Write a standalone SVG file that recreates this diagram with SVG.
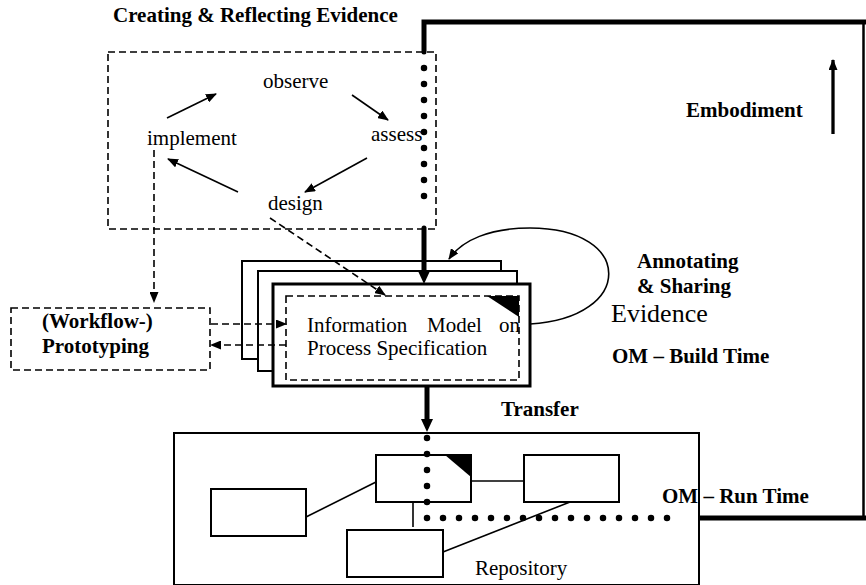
<svg xmlns="http://www.w3.org/2000/svg" width="866" height="585" viewBox="0 0 866 585">
  <style>
    text { font-family: "Liberation Serif", "Times New Roman", serif; fill: #000; }
    .lbl { font-size: 21px; }
    .b { font-size: 21px; font-weight: bold; }
    .box { fill: #fff; stroke: #000; stroke-width: 2; }
    .dash { fill: none; stroke: #000; stroke-width: 1.6; stroke-dasharray: 7 4; }
    .thin { fill: none; stroke: #000; stroke-width: 1.6; }
    .thick { fill: none; stroke: #000; stroke-width: 5; }
    .dots { fill: none; stroke: #000; stroke-width: 6.5; stroke-dasharray: 0 16; stroke-linecap: round; }
  </style>
  <defs>
    <marker id="head" markerUnits="userSpaceOnUse" markerWidth="11" markerHeight="9" refX="10" refY="4.5" orient="auto">
      <path d="M0,0 L11,4.5 L0,9 z" fill="#000"/>
    </marker>
    <marker id="bighead" markerUnits="userSpaceOnUse" markerWidth="14" markerHeight="12" refX="3" refY="6" orient="auto">
      <path d="M0,0 L13,6 L0,12 z" fill="#000"/>
    </marker>
  </defs>

  <rect width="866" height="585" fill="#fff"/>

  <!-- creating & reflecting evidence cycle -->
  <g id="cycle">
    <rect x="108" y="52" width="328" height="177" class="dash"/>
    <text class="b" x="113" y="22">Creating &amp; Reflecting Evidence</text>
    <text class="lbl" x="263" y="88">observe</text>
    <text class="lbl" x="147" y="145">implement</text>
    <text class="lbl" x="371" y="141">assess</text>
    <text class="lbl" x="268" y="210">design</text>
  </g>

  <!-- stacked information model sheets -->
  <g id="info-model">
    <rect x="242" y="261" width="259" height="98" class="box"/>
    <rect x="258" y="271" width="259" height="100" class="box"/>
    <rect x="273" y="284" width="257" height="102" fill="#fff" stroke="#000" stroke-width="3"/>
    <rect x="286" y="296" width="233" height="84" class="dash"/>
    <path d="M487,296 L519,296 L519,317 z" fill="#000"/>
    <text class="lbl" x="307" y="332">Information</text>
    <text class="lbl" x="427" y="332">Model</text>
    <text class="lbl" x="499" y="332">on</text>
    <text class="lbl" x="307" y="355">Process Specification</text>
  </g>

  <!-- prototyping -->
  <g id="prototyping">
    <rect x="11" y="308" width="199" height="62" class="dash"/>
    <text class="b" x="42" y="328">(Workflow-)</text>
    <text class="b" x="42" y="353">Prototyping</text>
  </g>

  <!-- repository -->
  <g id="repository">
    <rect x="174" y="433" width="525" height="152" class="box"/>
    <rect x="211" y="489" width="95" height="47" class="box"/>
    <rect x="376" y="455" width="95" height="47" class="box"/>
    <path d="M445,455 L471,455 L471,477 z" fill="#000"/>
    <rect x="524" y="455" width="95" height="47" class="box"/>
    <rect x="347" y="530" width="96" height="47" class="box"/>
    <text class="lbl" x="475" y="575">Repository</text>
  </g>

  <!-- side labels -->
  <g id="labels">
    <text class="b" x="686" y="117">Embodiment</text>
    <text class="b" x="637" y="268">Annotating</text>
    <text class="b" x="637" y="293">&amp; Sharing</text>
    <text x="611" y="322" font-size="26">Evidence</text>
    <text class="b" x="612" y="363">OM – Build Time</text>
    <text class="b" x="501" y="416">Transfer</text>
    <text class="b" x="662" y="503">OM – Run Time</text>
  </g>

  <g id="connectors">
    <!-- cycle arrows -->
    <line x1="167" y1="118" x2="216" y2="94" class="thin" marker-end="url(#head)"/>
    <line x1="352" y1="95" x2="388" y2="120" class="thin" marker-end="url(#head)"/>
    <line x1="367" y1="158" x2="305" y2="192" class="thin" marker-end="url(#head)"/>
    <line x1="238" y1="192" x2="168" y2="159" class="thin" marker-end="url(#head)"/>

    <!-- dashed links -->
    <line x1="154" y1="150" x2="154" y2="302" class="dash" marker-end="url(#head)"/>
    <line x1="270" y1="218" x2="385" y2="295" class="dash" marker-end="url(#head)"/>
    <line x1="211" y1="324" x2="286" y2="324" class="dash" marker-end="url(#head)"/>
    <line x1="286" y1="345" x2="211" y2="345" class="dash" marker-end="url(#head)"/>

    <!-- annotating loop -->
    <path d="M530,324 C635,318 635,228 530,228 C490,228 462,240 449,259" class="thin" stroke-width="2" marker-end="url(#head)"/>

    <!-- embodiment frame -->
    <path d="M424,52 V22 H866" class="thick" stroke-linecap="round"/>
    <line x1="863.5" y1="22" x2="863.5" y2="519" stroke="#000" stroke-width="2.5"/>
    <line x1="698" y1="518" x2="866" y2="518" class="thick"/>
    <path d="M424,68 V212" class="dots"/>
    <path d="M424,228 V274" class="thick" stroke-linecap="round" marker-end="url(#bighead)"/>

    <!-- transfer -->
    <path d="M427,386 V422" class="thick" marker-end="url(#bighead)"/>
    <path d="M427,438 V518 H683" class="dots"/>

    <!-- embodiment arrow -->
    <line x1="833" y1="134" x2="833" y2="60" stroke="#000" stroke-width="3.3" marker-end="url(#head)"/>

    <!-- repository links -->
    <line x1="306" y1="517" x2="376" y2="482" class="thin"/>
    <line x1="471" y1="481" x2="524" y2="481" class="thin"/>
    <line x1="413" y1="502" x2="413" y2="527" class="thin"/>
    <line x1="570" y1="502" x2="443" y2="552" class="thin"/>
  </g>
</svg>
